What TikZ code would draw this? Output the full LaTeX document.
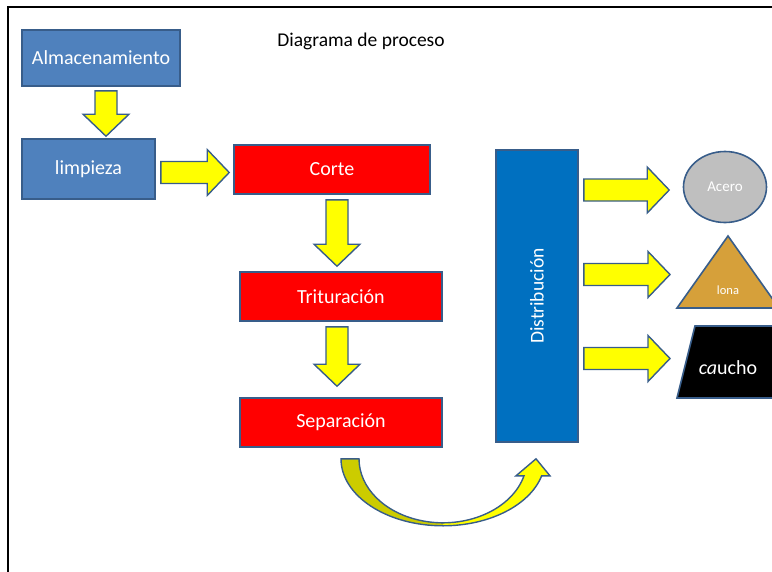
\documentclass[tikz,border=0pt]{standalone}
\usepackage{fontspec}
\setmainfont{Carlito}
\usetikzlibrary{calc,shapes.geometric}
\definecolor{boxblue}{HTML}{4F81BD}
\definecolor{bord}{HTML}{385D8A}
\definecolor{boxred}{HTML}{FF0000}
\definecolor{distblue}{HTML}{0070C0}
\definecolor{greyc}{HTML}{BFBFBF}
\definecolor{lonac}{HTML}{D6A03A}
\definecolor{arrowy}{HTML}{FFFF00}
\definecolor{darky}{HTML}{CCCC00}
\begin{document}
\begin{tikzpicture}[x=1pt,y=-1pt,
  txt/.style={font=\fontsize{20}{24}\selectfont},
  box/.style={draw=bord, line width=1.6pt, text=white, inner sep=0pt, txt},
  shapeline/.style={draw=bord, line width=1.6pt},
  blockarrow/.style={draw=bord, line width=1.4pt, fill=arrowy, line join=miter,
    to path={let \p1=(\tikztostart), \p2=(\tikztotarget),
      \n1={scalar(atan2(\y2-\y1,\x2-\x1))}, \n2={veclen(\x2-\x1,\y2-\y1)-22pt} in
      (\p1) ++(\n1+90:11pt) -- ++(\n1:\n2) -- ++(\n1+90:12pt) -- (\p2)
      -- ($(\p2)+(\n1:-22pt)+(\n1-90:23pt)$) -- ++(\n1+90:12pt)
      -- ($(\p1)+(\n1-90:11pt)$) -- cycle}}]
\useasboundingbox (0,0) rectangle (772,571);
% frame
\draw[black, line width=2pt] (7.5,580) -- (7.5,6.5) -- (790,6.5);
% title
\node[font=\fontsize{19.5}{23}\selectfont] (title) at (361,41) {Diagrama de proceso};
% boxes
\node[box, fill=boxblue, minimum width=158, minimum height=56] (alm) at (101,58) {Almacenamiento};
\node[box, fill=boxblue, minimum width=133, minimum height=60] (limp) at (88.5,169) {limpieza};
\node[box, fill=boxred, minimum width=196, minimum height=49] (corte) at (332,169.5) {Corte};
\node[box, fill=boxred, minimum width=202, minimum height=49] (trit) at (341,296.5) {Trituración};
\node[box, fill=boxred, minimum width=202, minimum height=49] (sep) at (341,422.5) {Separación};
\node[box, fill=distblue, minimum width=82, minimum height=292] (dist) at (537,296) {};
\node[text=white, font=\fontsize{19.5}{23}\selectfont, rotate=90] (distlabel) at (dist.center) {Distribución};
% outputs
\node[box, ellipse, fill=greyc, minimum width=83, minimum height=71, font=\fontsize{15}{18}\selectfont] (acero) at (725,187) {Acero};
\draw[shapeline, fill=lonac] (728,236) -- (779,308) -- (677,308) -- cycle;
\node[text=white, font=\fontsize{12.5}{15}\selectfont, inner sep=0pt] (lona) at (728,290) {lona};
\draw[shapeline, fill=black] (695,326) -- (790,326) -- (800,398) -- (677,398) -- cycle;
\node[text=white, font=\fontsize{20}{24}\selectfont, inner sep=0pt] (caucho) at (728,368) {{\itshape ca}ucho};
% block arrows
\draw[blockarrow] ([shift={(5,4)}]alm.south) to ([shift={(17.5,-2)}]limp.north);
\draw[blockarrow] ([shift={(5,3.5)}]limp.east) to ([shift={(-4,3)}]corte.west);
\draw[blockarrow] ([shift={(5,5)}]corte.south) to ([shift={(-4,-5)}]trit.north);
\draw[blockarrow] ([shift={(-4,5)}]trit.south) to ([shift={(-4,-11)}]sep.north);
\draw[blockarrow] ([shift={(5,-106)}]dist.east) to ([shift={(-13.5,3)}]acero.west);
\draw[blockarrow] ([shift={(5,-21.5)}]dist.east) to ([shift={(-58,-15.5)}]lona.center);
\draw[blockarrow] ([shift={(5,62.5)}]dist.east) to ([shift={(-58,-9.5)}]caucho.center);
% curved arrow
\coordinate (ctl) at ([shift={(0,11)}]sep.south);
\coordinate (tp) at ([shift={(-1,16)}]dist.south);
\fill[arrowy] (ctl) arc[start angle=180,end angle=345.3,x radius=102pt,y radius=67pt]
  -- ++(8.3,0) -- (tp) -- ++(-20,17) -- ++(8,0)
  arc[start angle=344.6,end angle=180,x radius=84pt,y radius=64pt] -- cycle;
\fill[darky] (ctl) arc[start angle=180,end angle=270,x radius=102pt,y radius=67pt]
  -- ++(0,-3) arc[start angle=270,end angle=180,x radius=84pt,y radius=64pt] -- cycle;
\draw[bord, line width=1.4pt, line join=miter] (ctl) arc[start angle=180,end angle=345.3,x radius=102pt,y radius=67pt]
  -- ++(8.3,0) -- (tp) -- ++(-20,17) -- ++(8,0)
  arc[start angle=344.6,end angle=180,x radius=84pt,y radius=64pt] -- cycle;
\end{tikzpicture}
\end{document}
